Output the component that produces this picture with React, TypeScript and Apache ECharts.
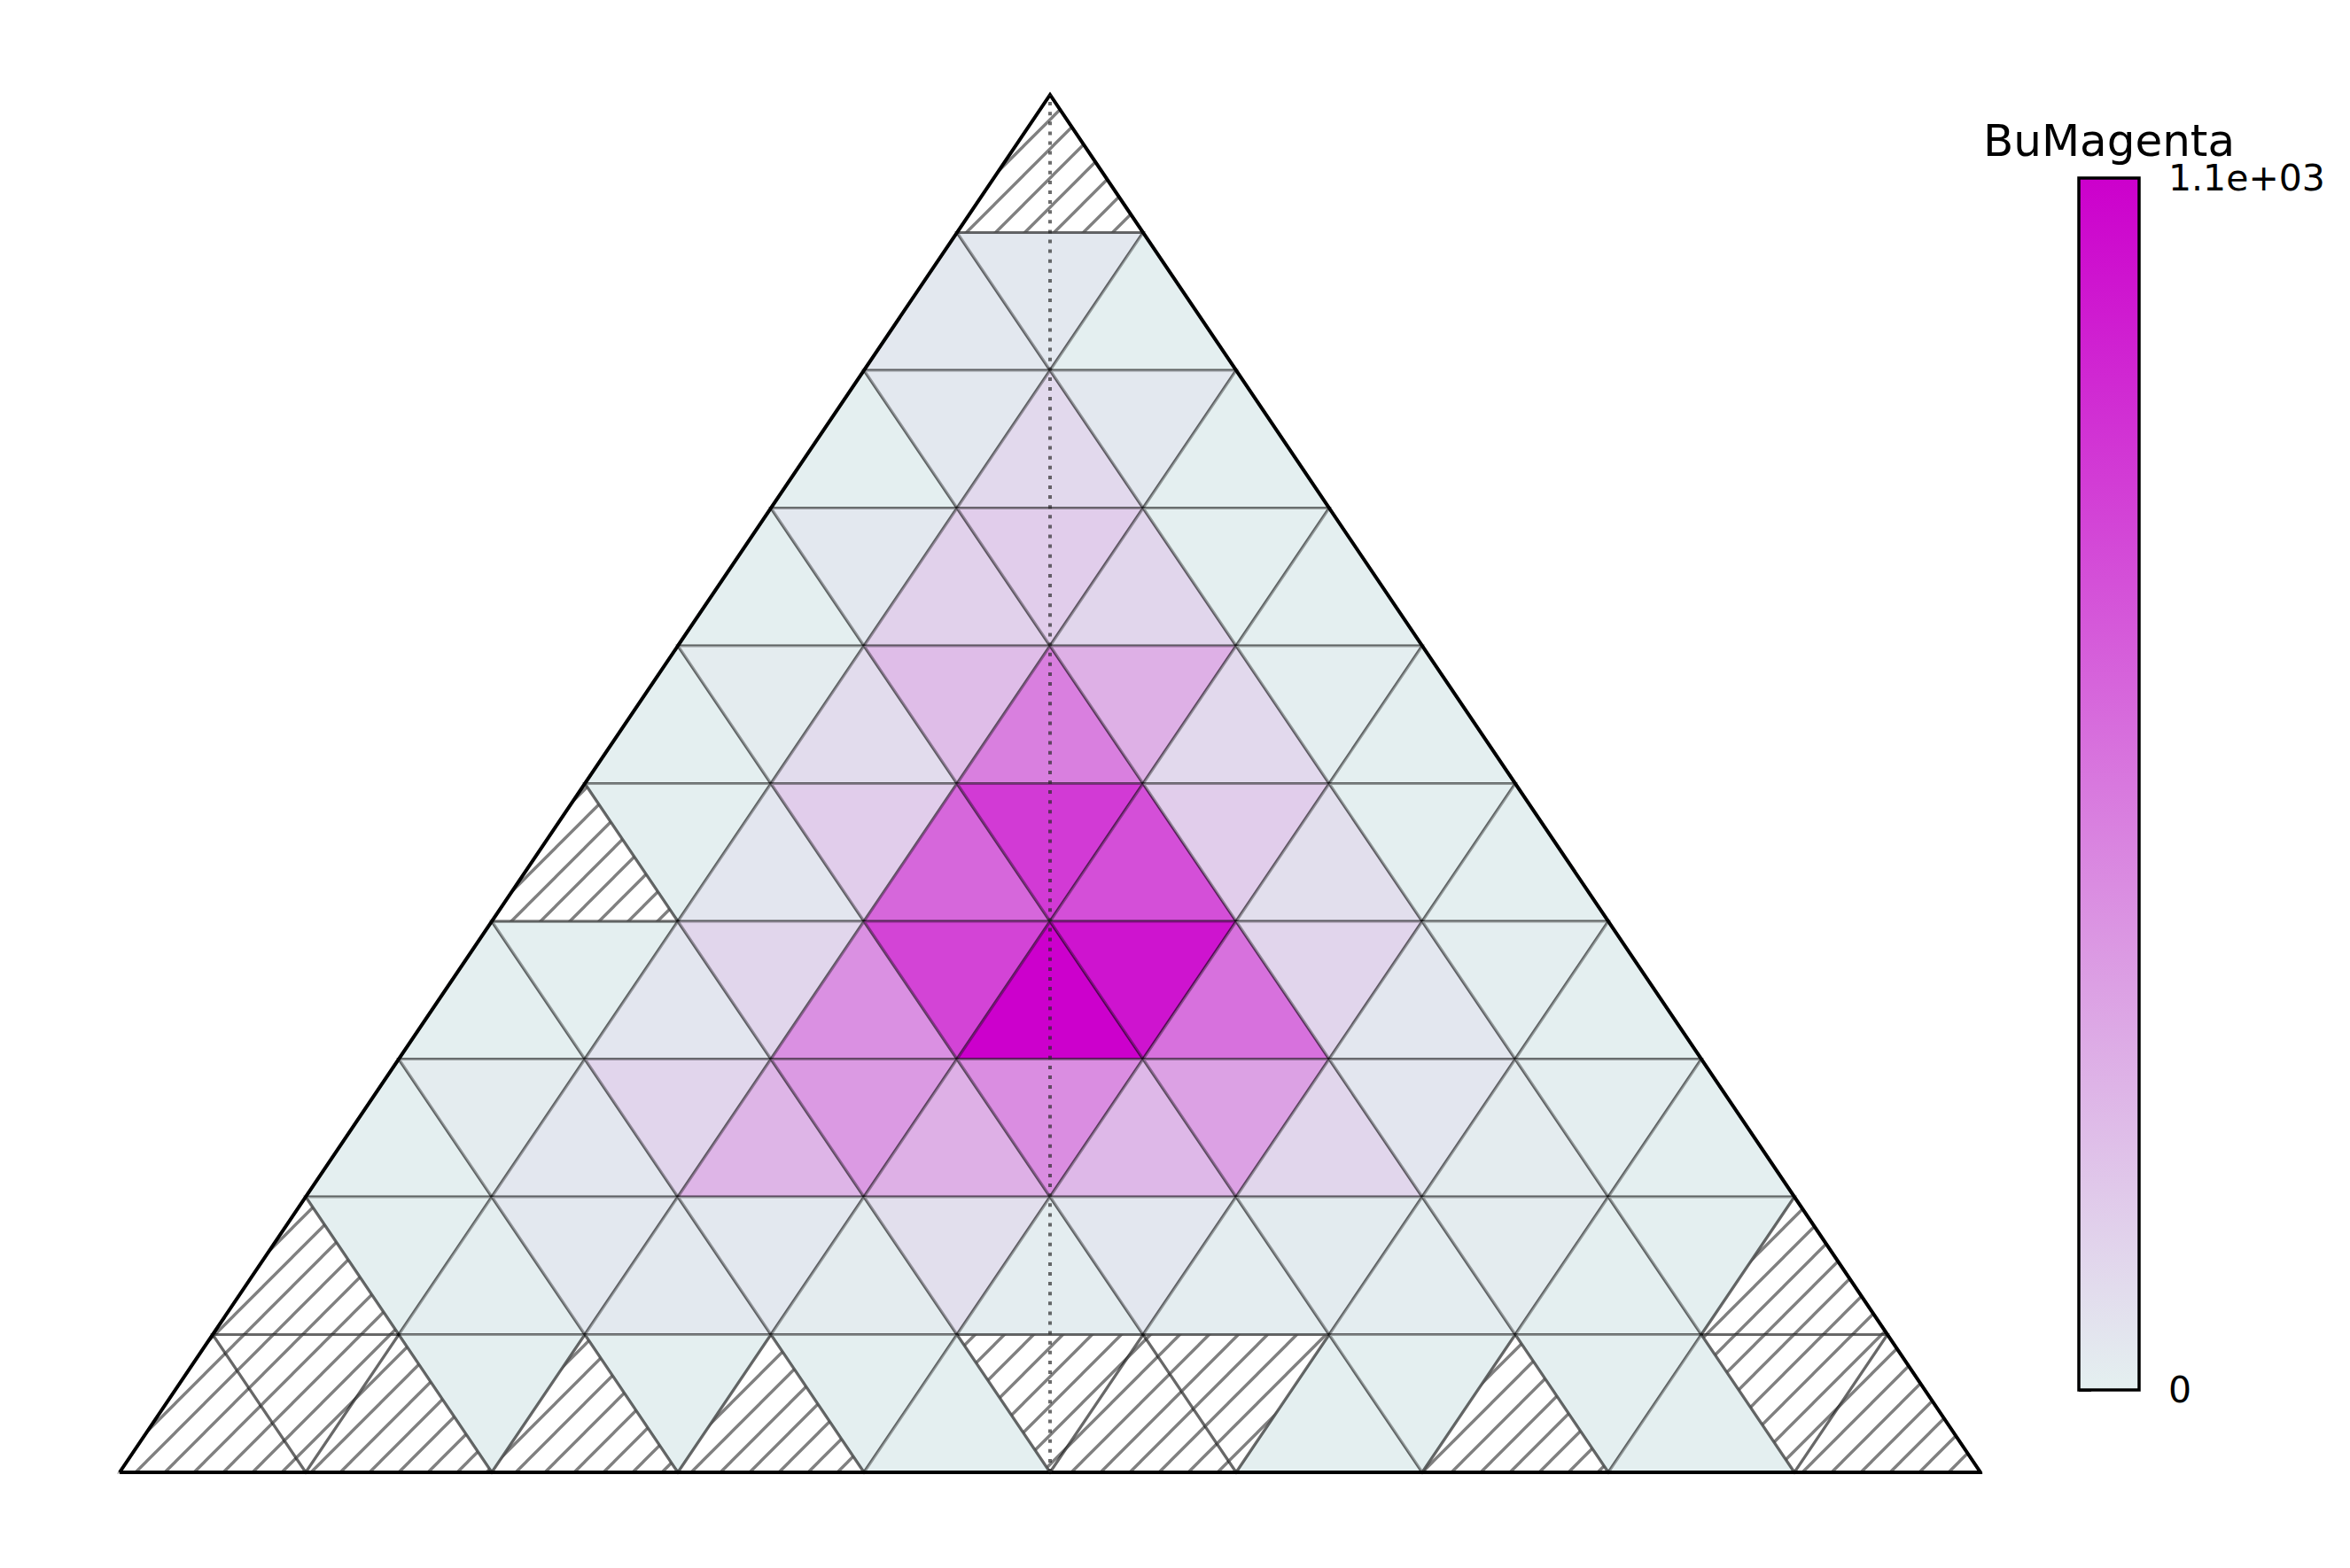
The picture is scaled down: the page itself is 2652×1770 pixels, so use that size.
import React, { useEffect, useRef } from "react";
import * as echarts from "echarts";

// ---- data: counts per triangular cell, row by row from the apex (null = empty bin) ----
const N_ROWS = 10;
const row0 = [null];
const row1 = [37, 37, 5];
const row2 = [5, 35, 105, 35, 5];
const row3 = [5, 35, 142, 160, 119, 5, 5];
const row4 = [5, 20, 90, 234, 518, 293, 105, 8, 5];
const row5 = [null, 5, 45, 160, 630, 835, 740, 160, 80, 5, 5];
const row6 = [5, 5, 45, 120, 440, 790, 1100, 1010, 580, 125, 40, 8, 5];
const row7 = [5, 20, 40, 125, 270, 395, 295, 455, 255, 360, 120, 45, 20, 8, 5];
const row8 = [null, 5, 10, 35, 30, 35, 20, 80, 12, 40, 15, 25, 15, 18, 5, 5, null];
const row9 = [null, null, null, 5, null, 5, null, 5, 5, null, null, null, 5, 5, null, 5, 5, null, null];
const ROWS = [row0, row1, row2, row3, row4, row5, row6, row7, row8, row9];

const CMAP_NAME = "BuMagenta";
const CMAP_COLORS = ["#e4f0f0", "#cc00cc"];
const CBAR_MIN = 0;
const CBAR_MAX = 1100;

const FONT = "DejaVu Sans";
const EDGE = "rgba(0,0,0,0.36)";

function triangle(r: number, k: number): number[][] {
  const top = N_ROWS - r;
  const bottom = N_ROWS - r - 1;
  if (k % 2 === 0) {
    const i = k / 2;
    const xl = N_ROWS / 2 - (r + 1) / 2 + i;
    return [[xl, bottom], [xl + 1, bottom], [xl + 0.5, top]];
  }
  const j = (k - 1) / 2;
  const xl = N_ROWS / 2 - r / 2 + j;
  return [[xl, top], [xl + 1, top], [xl + 0.5, bottom]];
}

function fmtG2(v: number): string {
  if (v === 0) return "0";
  const e = Math.floor(Math.log10(Math.abs(v)));
  if (e >= 2 || e < -4) {
    const m = v / Math.pow(10, e);
    const ms = m.toFixed(1).replace(/\.0$/, "");
    const sign = e < 0 ? "-" : "+";
    const ee = String(Math.abs(e)).padStart(2, "0");
    return `${ms}e${sign}${ee}`;
  }
  return String(Number(v.toPrecision(2)));
}

function hatchImage(): string {
  const s = 33;
  const svg =
    `<svg xmlns="http://www.w3.org/2000/svg" width="${s}" height="${s}">` +
    `<g stroke="rgb(128,128,128)" stroke-width="3.4">` +
    `<line x1="-4" y1="${s + 4}" x2="${s + 4}" y2="-4"/>` +
    `<line x1="-4" y1="4" x2="4" y2="-4"/>` +
    `<line x1="${s - 4}" y1="${s + 4}" x2="${s + 4}" y2="${s - 4}"/>` +
    `</g></svg>`;
  return "data:image/svg+xml;charset=utf-8," + encodeURIComponent(svg);
}

export default function App() {
  const ref = useRef<HTMLDivElement>(null);

  useEffect(() => {
    if (!ref.current) return;
    const chart = echarts.init(ref.current, null, { renderer: "svg" });

    const filled: number[][] = [];
    const empty: number[][] = [];
    ROWS.forEach((row, r) => {
      row.forEach((v, k) => {
        if (v == null) empty.push([r, k]);
        else filled.push([r, k, v as number]);
      });
    });

    const hatch = { image: hatchImage(), repeat: "repeat", imageWidth: 33, imageHeight: 33 };

    const option: any = {
      animation: false,
      backgroundColor: "#ffffff",
      grid: [
        { left: 135, top: 107, width: 2100, height: 1555 },
        { left: 2346, top: 201, width: 68, height: 1368 },
      ],
      xAxis: [
        { gridIndex: 0, type: "value", min: 0, max: N_ROWS, show: false },
        { gridIndex: 1, type: "value", min: 0, max: 1, show: false },
      ],
      yAxis: [
        { gridIndex: 0, type: "value", min: 0, max: N_ROWS, show: false },
        {
          gridIndex: 1,
          type: "value",
          position: "right",
          min: CBAR_MIN,
          max: CBAR_MAX,
          interval: CBAR_MAX - CBAR_MIN,
          splitLine: { show: false },
          axisLine: { show: false },
          axisTick: { show: true, length: 14, lineStyle: { color: "#000", width: 3 } },
          axisLabel: {
            margin: 33,
            color: "#000",
            fontSize: 41,
            fontFamily: FONT,
            formatter: (v: number) => fmtG2(v),
          },
        },
      ],
      visualMap: {
        show: false,
        type: "continuous",
        min: CBAR_MIN,
        max: CBAR_MAX,
        dimension: 2,
        seriesIndex: 0,
        inRange: { color: CMAP_COLORS },
      },
      graphic: [
        {
          type: "text",
          x: 2380,
          y: 159,
          style: {
            text: CMAP_NAME,
            fill: "#000",
            font: `50px "${FONT}"`,
            align: "center",
            verticalAlign: "middle",
          },
        },
      ],
      series: [
        {
          type: "custom",
          name: "counts",
          xAxisIndex: 0,
          yAxisIndex: 0,
          data: filled,
          z: 2,
          renderItem: (params: any, api: any) => {
            const pts = triangle(api.value(0), api.value(1)).map((p) => api.coord(p));
            return {
              type: "polygon",
              shape: { points: pts },
              style: { fill: api.visual("color"), stroke: EDGE, lineWidth: 3.2 },
            };
          },
        },
        {
          type: "custom",
          name: "empty",
          xAxisIndex: 0,
          yAxisIndex: 0,
          data: empty,
          z: 2,
          renderItem: (params: any, api: any) => {
            const pts = triangle(api.value(0), api.value(1)).map((p) => api.coord(p));
            return {
              type: "polygon",
              shape: { points: pts },
              style: { fill: hatch, stroke: EDGE, lineWidth: 3.2 },
            };
          },
        },
        {
          type: "line",
          name: "outline",
          xAxisIndex: 0,
          yAxisIndex: 0,
          data: [[0, 0], [N_ROWS, 0], [N_ROWS / 2, N_ROWS], [0, 0]],
          symbol: "none",
          clip: false,
          z: 5,
          lineStyle: { color: "#000", width: 4, join: "miter" },
        },
        {
          type: "line",
          name: "center",
          xAxisIndex: 0,
          yAxisIndex: 0,
          data: [[N_ROWS / 2, 0], [N_ROWS / 2, N_ROWS]],
          symbol: "none",
          clip: false,
          z: 6,
          lineStyle: { color: "rgba(40,40,40,0.68)", width: 4, type: [4, 7.1], cap: "butt" },
        },
        {
          type: "custom",
          name: "colorbar",
          xAxisIndex: 1,
          yAxisIndex: 1,
          data: [[0, CBAR_MIN, CBAR_MAX]],
          z: 3,
          renderItem: (params: any, api: any) => {
            const p0 = api.coord([0, api.value(1)]);
            const p1 = api.coord([1, api.value(2)]);
            return {
              type: "rect",
              shape: { x: p0[0], y: p1[1], width: p1[0] - p0[0], height: p0[1] - p1[1] },
              style: {
                fill: {
                  type: "linear",
                  x: 0,
                  y: 1,
                  x2: 0,
                  y2: 0,
                  colorStops: CMAP_COLORS.map((c, i) => ({ offset: i / (CMAP_COLORS.length - 1), color: c })),
                },
                stroke: "#000",
                lineWidth: 3.5,
              },
            };
          },
        },
      ],
    };

    chart.setOption(option);
    return () => chart.dispose();
  }, []);

  return (
    <div
      ref={ref}
      style={{ position: "absolute", left: 0, top: 0, width: 2652, height: 1770, background: "#fff" }}
    />
  );
}
